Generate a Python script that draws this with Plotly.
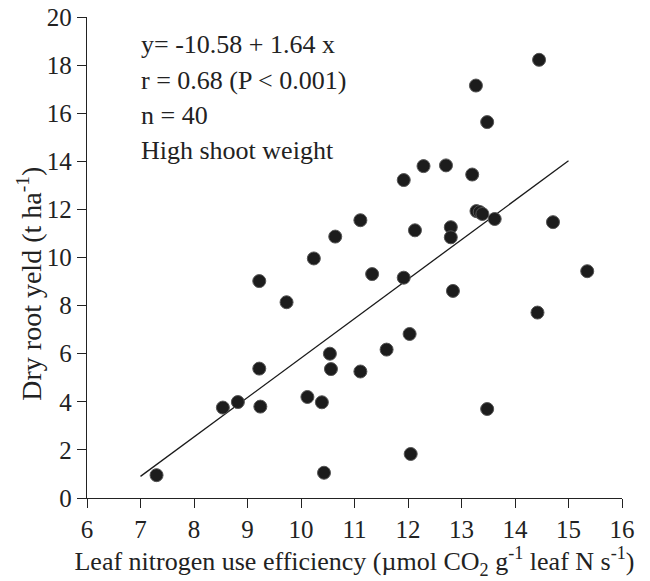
import plotly.graph_objects as go

# Data
lnue = [7.30, 8.54, 8.82, 9.22, 9.22, 9.24, 9.73, 10.24, 10.64, 10.12, 10.39, 10.54, 10.56, 10.43,
        11.11, 12.13, 12.80, 12.80, 13.28, 13.34, 13.39, 13.62, 14.71, 15.35, 14.42, 11.33, 11.92,
        12.84, 12.03, 11.60, 11.11, 13.48, 12.05,
        14.45, 13.27, 13.48, 12.29, 12.71, 11.92, 13.20]
root_yield = [0.95, 3.76, 3.99, 9.02, 5.38, 3.80, 8.14, 9.96, 10.87, 4.20, 3.98, 6.00, 5.36, 1.05,
              11.55, 11.13, 11.26, 10.84, 11.93, 11.89, 11.81, 11.60, 11.47, 9.43, 7.71, 9.31, 9.16,
              8.61, 6.82, 6.17, 5.26, 3.70, 1.83,
              18.22, 17.15, 15.63, 13.80, 13.83, 13.22, 13.45]

intercept = -10.58
slope = 1.64
fit_x = [7, 15]
fit_y = [intercept + slope * v for v in fit_x]

x_ticks = [6, 7, 8, 9, 10, 11, 12, 13, 14, 15, 16]
y_ticks = [0, 2, 4, 6, 8, 10, 12, 14, 16, 18, 20]

stats_lines = ["y= -10.58 + 1.64 x", "r = 0.68 (P < 0.001)", "n = 40", "High shoot weight"]

FONT = "Liberation Serif, Times New Roman, serif"

fig = go.Figure()
fig.add_trace(go.Scatter(
    x=fit_x, y=fit_y, mode="lines",
    line=dict(color="#1a1a1a", width=1.3),
    showlegend=False, hoverinfo="skip"))
fig.add_trace(go.Scatter(
    x=lnue, y=root_yield, mode="markers",
    marker=dict(size=13, color="#1c1c1c", line=dict(color="#555555", width=1)),
    showlegend=False, cliponaxis=False))

line_y = [0.943, 0.868, 0.795, 0.722]
for txt, yy in zip(stats_lines, line_y):
    fig.add_annotation(text=txt, xref="paper", yref="paper", x=0.098, y=yy,
                       xanchor="left", yanchor="middle", showarrow=False,
                       font=dict(family=FONT, size=26, color="#222222"))

# y-axis title as a rotated annotation
fig.add_annotation(text="Dry root yeld (t ha<sup>-1</sup>)", xref="paper", yref="paper",
                   x=-0.107, y=0.445, xanchor="center", yanchor="middle", textangle=-90,
                   showarrow=False, font=dict(family=FONT, size=28, color="#222222"))

# page body has an 8px margin, so the figure is a bit smaller and margins shifted
fig.update_layout(
    width=642, height=573,
    margin=dict(l=79, r=28, t=9, b=83),
    paper_bgcolor="white", plot_bgcolor="white",
    font=dict(family=FONT, color="#222222"),
)
fig.update_xaxes(
    range=[6, 16], tickvals=x_ticks, ticktext=[str(v) for v in x_ticks],
    showgrid=False, zeroline=False, showline=True, linecolor="#222222", linewidth=1.3,
    ticks="outside", ticklen=9, tickwidth=1.3, tickcolor="#222222",
    tickfont=dict(family=FONT, size=25, color="#222222"), automargin=False,
    ticklabeloverflow="allow",
    title=dict(text="Leaf nitrogen use efficiency (µmol CO<sub>2</sub> g<sup>-1</sup> leaf N s<sup>-1</sup>)",
               font=dict(family=FONT, size=26, color="#222222"), standoff=4),
)
fig.update_yaxes(
    range=[0, 20], tickvals=y_ticks, ticktext=[str(v) for v in y_ticks],
    showgrid=False, zeroline=False, showline=True, linecolor="#222222", linewidth=1.3,
    ticks="outside", ticklen=9, tickwidth=1.3, tickcolor="#222222",
    tickfont=dict(family=FONT, size=25, color="#222222"), automargin=False,
    ticklabeloverflow="allow",
)

fig.write_html("out.html")
